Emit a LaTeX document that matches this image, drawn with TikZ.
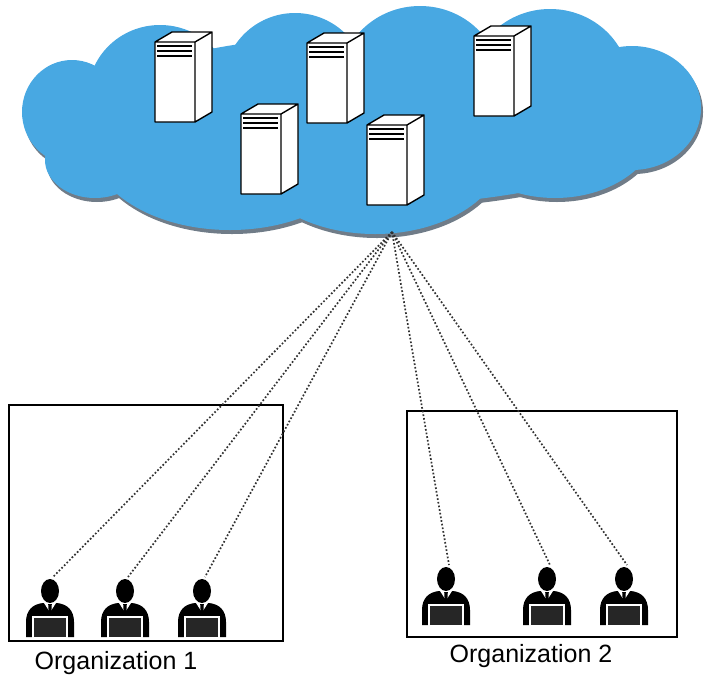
\documentclass[tikz,border=0pt]{standalone}
\usepackage{fontspec}
\setmainfont{Liberation Sans}
\usepackage{xcolor}
\definecolor{cloudblue}{RGB}{72,168,226}
\definecolor{cloudshade}{RGB}{112,124,136}
\definecolor{linkgray}{RGB}{50,50,50}
\tikzset{
    orgbox/.style={rectangle, draw=black, line width=0.9pt, inner sep=0pt},
    orglabel/.style={font=\fontsize{12.5}{14}\selectfont, inner sep=0pt},
    link/.style={densely dotted, draw=linkgray, line width=0.85pt},
    server/.pic={
        \filldraw[fill=white, draw=black, line width=0.7pt, line join=round]
            (0,0) rectangle (40,80)
            (40,0) -- (57,-10) -- (57,70) -- (40,80) -- cycle
            (0,0) -- (17,-10) -- (57,-10) -- (40,0) -- cycle;
        \foreach \y in {4,9,14}
            \draw[line width=1.2pt] (2,\y) -- (37,\y);
    },
    user/.pic={
        % head, shoulders and the laptop in front
        \fill (0,-46) ellipse [x radius=9, y radius=12];
        \fill (-24,0) -- (-24,-15) .. controls (-24,-27) and (-17,-33) .. (-7,-34)
            -- (7,-34) .. controls (17,-33) and (24,-27) .. (24,-15) -- (24,0) -- cycle;
        \fill[white] (-6,-34) -- (-1.5,-27) -- (1.5,-27) -- (6,-34) -- cycle;
        \fill (-1.8,-33) -- (1.8,-33) -- (1.2,-22) -- (-1.2,-22) -- cycle;
        \filldraw[fill=black!85, draw=white, line width=0.9pt] (-17,1) rectangle (17,-20);
        \coordinate (-top) at (3,-60);
    }
}

\begin{document}
\begin{tikzpicture}[x=0.5pt, y=-0.5pt]
    \useasboundingbox (0,0) rectangle (704,680);

    % Cloud: shadow first, then the blue lobes on top
    \foreach \dx/\dy/\col in {2/4/cloudshade, 0/0/cloudblue}
        \foreach \cx/\cy/\rx/\ry in {72/112/50/52, 95/160/50/38, 160/95/72/70,
                295/85/72/72, 420/82/80/76, 550/86/80/77, 632/108/69/62,
                555/120/105/78, 375/148/130/86, 230/142/140/88, 370/120/290/85}
            \fill[\col] (\cx+\dx,\cy+\dy) ellipse [x radius=\rx, y radius=\ry];

    % Servers
    \pic (srv1) at (155,42) {server};
    \pic (srv2) at (307,43) {server};
    \pic (srv5) at (474,36) {server};
    \pic (srv3) at (241,114) {server};
    \pic (srv4) at (367,125) {server};

    \coordinate (hub) at (392,232);

    % Organizations
    \node[orgbox, minimum width=137pt, minimum height=118pt] (org1) at (146,523) {};
    \node[orgbox, minimum width=135pt, minimum height=113pt] (org2) at (542,524) {};
    \node[orglabel] (lbl1) at (116,663) {Organization 1};
    \node[orglabel] (lbl2) at (531,656) {Organization 2};

    \pic (u11) at (50,637) {user};
    \pic (u12) at (125,637) {user};
    \pic (u13) at (202,637) {user};
    \pic (u21) at (446,625) {user};
    \pic (u22) at (547,625) {user};
    \pic (u23) at (624,625) {user};

    \foreach \u in {u11,u12,u13,u21,u22,u23}
        \draw[link] (hub) -- (\u-top);

\end{tikzpicture}
\end{document}
